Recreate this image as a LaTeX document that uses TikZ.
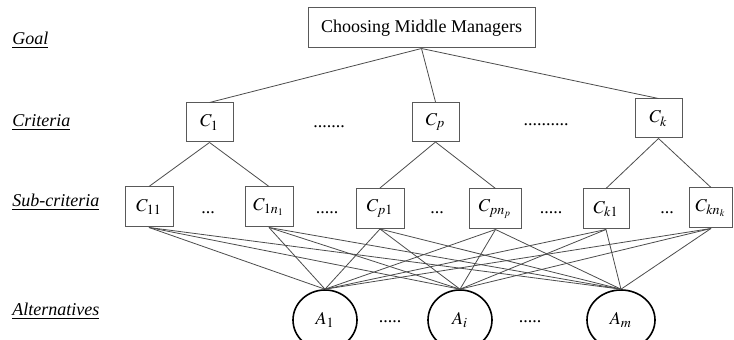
\documentclass[tikz,border=0pt]{standalone}
\usepackage{mathptmx}
\usepackage[no-math]{fontspec}
\setmainfont{Liberation Serif}
\usetikzlibrary{shapes.geometric}
\tikzset{
  goalbox/.style ={draw=gray!70!black,line width=0.5pt,inner sep=0pt,
                   minimum width=113.5pt,minimum height=20pt,font=\fontsize{9}{11}\selectfont},
  crit/.style    ={draw=gray!70!black,line width=0.5pt,inner sep=0pt,
                   minimum width=23.5pt,minimum height=19.5pt,font=\fontsize{9}{11}\selectfont},
  subc/.style    ={crit,minimum width=24pt,minimum height=20pt},
  alt/.style     ={draw,ellipse,line width=0.8pt,inner sep=0pt,
                   minimum width=32pt,minimum height=30pt,font=\fontsize{9}{11}\selectfont},
  level/.style   ={anchor=base west,inner sep=0pt,font=\fontsize{9}{11}\selectfont\itshape},
  dotrow/.style  ={inner sep=0pt,font=\fontsize{9}{11}\selectfont},
  ln/.style      ={draw=gray!60!black,line width=0.4pt},
}
\newcommand{\lvl}[1]{\underline{#1}}

\begin{document}
\begin{tikzpicture}[x=0.5pt,y=-0.5pt]
\useasboundingbox (0,0) rectangle (734,340);
\clip (0,0) rectangle (734,340);
% level names
\node[level] (LG) at (12,45)  {\lvl{Goal}};
\node[level] (LC) at (12,127) {\lvl{Criteria}};
\node[level] (LS) at (12,207) {\lvl{Sub-criteria}};
\node[level] (LA) at (12,316) {\lvl{Alternatives}};
% Goal
\node[goalbox] (G) at (421.5,28) {Choosing Middle Managers};
% Criteria
\node[crit] (C1) at (209.5,122.5) {$C_1$};
\node[crit] (Cp) at (435.5,122)   {$C_p$};
\node[crit] (Ck) at (658.5,118.5) {$C_k$};
\node[dotrow] (D1) at (329,127) {.......};
\node[dotrow] (D2) at (546,125) {..........};
% Sub-criteria
\node[subc] (C11) at (149,207)   {$C_{11}$};
\node[subc] (C1n) at (269,207)   {$C_{1n_1}$};
\node[subc] (Cp1) at (380,208.5) {$C_{p1}$};
\node[subc,minimum width=26pt] (Cpn) at (495.5,209) {$C_{pn_p}$};
\node[subc,minimum width=23pt] (Ck1) at (606,209)   {$C_{k1}$};
\node[subc,minimum width=21.5pt] (Ckn) at (711,208) {$C_{kn_k}$};
\node[dotrow] (D3) at (208,213) {...};
\node[dotrow] (D4) at (327,213) {.....};
\node[dotrow] (D5) at (437,213) {...};
\node[dotrow] (D6) at (551,213) {.....};
\node[dotrow] (D7) at (667,213) {...};
% Alternatives
\node[alt] (A1) at (325,320) {$A_1$};
\node[alt] (Ai) at (460,320) {$A_i$};
\node[alt,minimum width=34pt] (Am) at (621,320) {$A_m$};
\node[dotrow] (D8) at (390,322) {.....};
\node[dotrow] (D9) at (530,322) {.....};
% edges
\foreach \c in {C1,Cp,Ck}
  \draw[ln] (G.south) -- (\c.north);
\draw[ln] (C1.south) -- (C11.north);
\draw[ln] (C1.south) -- (C1n.north);
\draw[ln] (Cp.south) -- (Cp1.north);
\draw[ln] (Cp.south) -- (Cpn.north);
\draw[ln] (Ck.south) -- (Ck1.north);
\draw[ln] (Ck.south) -- (Ckn.north);
\foreach \s in {C11,C1n,Cp1,Cpn,Ck1,Ckn}
  \foreach \a in {A1,Ai,Am}
    \draw[ln] (\s.south) -- (\a.north);
\end{tikzpicture}
\end{document}
